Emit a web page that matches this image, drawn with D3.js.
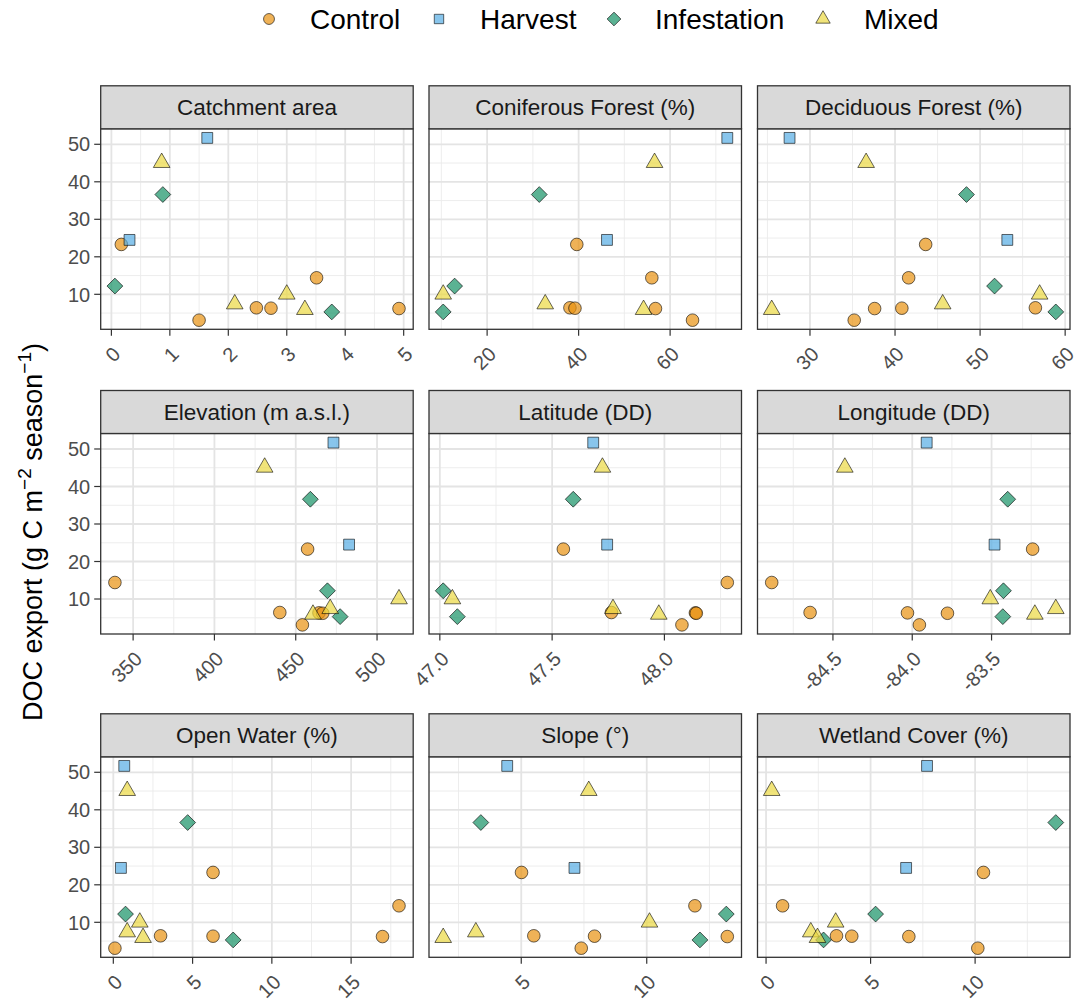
<!DOCTYPE html>
<html>
<head>
<meta charset="utf-8">
<script src="https://cdn.jsdelivr.net/npm/d3@7/dist/d3.min.js"></script>
<style>
  html, body { margin: 0; padding: 0; background: #ffffff; }
  svg { display: block; font-family: "Liberation Sans", Arial, Helvetica, sans-serif; }
</style>
</head>
<body>
<svg id="chart" width="1081" height="1003"></svg>
<script>
// ---- Data: one entry per catchment (15 sites) ----
const treatments = ["Control", "Harvest", "Infestation", "Mixed"];
const treatment = [
  "Control", "Control", "Control", "Control", "Control", "Control",
  "Harvest", "Harvest",
  "Infestation", "Infestation", "Infestation",
  "Mixed", "Mixed", "Mixed", "Mixed"
];
// DOC export, g C m^-2 season^-1
const docExport = [23.3, 14.4, 3.1, 6.4, 6.3, 6.2, 51.7, 24.5, 36.6, 12.2, 5.3, 45.1, 10.0, 7.4, 5.9];

// Catchment descriptors
const catchmentArea    = [0.17, 3.51, 1.50, 2.48, 2.73, 4.92, 1.64, 0.31, 0.88, 0.06, 3.77, 0.86, 3.00, 2.11, 3.31];
const coniferousForest = [39.6, 56.0, 64.9, 38.1, 39.2, 56.8, 72.5, 46.2, 31.4, 12.9, 10.4, 56.6, 10.4, 32.7, 54.2];
const deciduousForest  = [43.6, 41.6, 35.2, 56.5, 40.8, 37.6, 27.6, 53.2, 48.4, 51.7, 58.9, 36.6, 57.0, 45.6, 25.5];
const elevation        = [457.3, 338.8, 454.1, 440.2, 464.3, 466.6, 473.2, 482.8, 459.0, 469.5, 477.3, 430.9, 513.5, 471.2, 460.6];
const latitude         = [47.550, 48.280, 48.078, 47.764, 48.138, 48.142, 47.683, 47.745, 47.594, 47.015, 47.078, 47.724, 47.056, 47.771, 47.975];
const longitude        = [-83.241, -84.886, -83.955, -84.644, -84.030, -83.778, -83.909, -83.481, -83.398, -83.425, -83.429, -84.425, -83.508, -83.095, -83.227];
const openWater        = [6.29, 18.02, 0.10, 2.98, 6.29, 16.98, 0.69, 0.48, 4.69, 0.77, 7.56, 0.875, 1.67, 0.875, 1.875];
const slope            = [5.01, 11.92, 7.39, 5.50, 7.92, 13.21, 4.44, 7.12, 3.39, 13.17, 12.12, 7.69, 10.11, 3.19, 1.89];
const wetlandCover     = [10.40, 0.79, 10.13, 3.37, 4.10, 6.83, 7.70, 6.70, 13.86, 5.24, 2.75, 0.27, 3.33, 2.14, 2.46];

// Facet titles, in panel order
const facetTitles = [
  "Catchment area", "Coniferous Forest (%)", "Deciduous Forest (%)",
  "Elevation (m a.s.l.)", "Latitude (DD)", "Longitude (DD)",
  "Open Water (%)", "Slope (°)", "Wetland Cover (%)"
];
const facetValues = [
  catchmentArea, coniferousForest, deciduousForest,
  elevation, latitude, longitude,
  openWater, slope, wetlandCover
];

// Axis breaks and their labels
const xTicks = [
  [0, 1, 2, 3, 4, 5],
  [20, 40, 60],
  [30, 40, 50, 60],
  [350, 400, 450, 500],
  [47.0, 47.5, 48.0],
  [-84.5, -84.0, -83.5],
  [0, 5, 10, 15],
  [5, 10],
  [0, 5, 10]
];
const xTickLabels = [
  ["0", "1", "2", "3", "4", "5"],
  ["20", "40", "60"],
  ["30", "40", "50", "60"],
  ["350", "400", "450", "500"],
  ["47.0", "47.5", "48.0"],
  ["-84.5", "-84.0", "-83.5"],
  ["0", "5", "10", "15"],
  ["5", "10"],
  ["0", "5", "10"]
];
const yTicks = [10, 20, 30, 40, 50];
const yTickLabels = ["10", "20", "30", "40", "50"];

// ---- Appearance ----
const fillColor = {
  Control: "#E8920F",
  Harvest: "#55ADE4",
  Infestation: "#159265",
  Mixed: "#EBD841"
};
const symbolType = {
  Control: d3.symbolCircle,
  Harvest: d3.symbolSquare,
  Infestation: d3.symbolSquare,   // rotated 45 degrees into a diamond
  Mixed: d3.symbolTriangle
};
const symbolSize = { Control: 125, Harvest: 118, Infestation: 125, Mixed: 120 };
const symbolRotate = { Control: 0, Harvest: 0, Infestation: 45, Mixed: 0 };

const colX = [100.7, 429.0, 757.5];
const rowTop = [128.8, 433.5, 756.8];
const panelW = 312.5;
const panelH = 200.5;
const stripH = 43;
const tickLen = 6.5;

const svg = d3.select("#chart");

// Expand a range by 5% on each side (continuous-scale default padding)
function expanded(values) {
  const [lo, hi] = d3.extent(values);
  const pad = (hi - lo) * 0.05;
  return [lo - pad, hi + pad];
}
// Minor breaks halfway between major breaks, extended one half-step past the ends
function minorBreaks(major, domain) {
  const out = [];
  const step = major[1] - major[0];
  const all = [major[0] - step, ...major, major[major.length - 1] + step];
  for (let i = 0; i < all.length - 1; i++) {
    const m = (all[i] + all[i + 1]) / 2;
    if (m >= domain[0] && m <= domain[1]) out.push(m);
  }
  return out;
}

const yDomain = expanded(docExport);
const yMinor = minorBreaks(yTicks, yDomain);

facetTitles.forEach((title, i) => {
  const row = Math.floor(i / 3), col = i % 3;
  const x0 = colX[col], y0 = rowTop[row];
  const xDomain = expanded(facetValues[i]);
  const x = d3.scaleLinear().domain(xDomain).range([x0, x0 + panelW]);
  const y = d3.scaleLinear().domain(yDomain).range([y0 + panelH, y0]);
  const xMinor = minorBreaks(xTicks[i], xDomain);

  const g = svg.append("g").attr("class", "panel");

  g.append("rect")
    .attr("x", x0).attr("y", y0).attr("width", panelW).attr("height", panelH)
    .attr("fill", "#ffffff");

  // minor grid
  g.selectAll(".xminor").data(xMinor).join("line")
    .attr("x1", d => x(d)).attr("x2", d => x(d))
    .attr("y1", y0).attr("y2", y0 + panelH)
    .attr("stroke", "#EBEBEB").attr("stroke-width", 0.9);
  g.selectAll(".yminor").data(yMinor).join("line")
    .attr("x1", x0).attr("x2", x0 + panelW)
    .attr("y1", d => y(d)).attr("y2", d => y(d))
    .attr("stroke", "#EBEBEB").attr("stroke-width", 0.9);
  // major grid
  g.selectAll(".xmajor").data(xTicks[i]).join("line")
    .attr("x1", d => x(d)).attr("x2", d => x(d))
    .attr("y1", y0).attr("y2", y0 + panelH)
    .attr("stroke", "#E4E4E4").attr("stroke-width", 1.8);
  g.selectAll(".ymajor").data(yTicks).join("line")
    .attr("x1", x0).attr("x2", x0 + panelW)
    .attr("y1", d => y(d)).attr("y2", d => y(d))
    .attr("stroke", "#E4E4E4").attr("stroke-width", 1.8);

  // points
  const pts = docExport.map((v, k) => ({ v, xv: facetValues[i][k], t: treatment[k] }));
  g.selectAll("path.pt").data(pts).join("path")
    .attr("class", "pt")
    .attr("d", d => d3.symbol().type(symbolType[d.t]).size(symbolSize[d.t])())
    .attr("transform", d => `translate(${x(d.xv)},${y(d.v)}) rotate(${symbolRotate[d.t]})`)
    .attr("fill", d => fillColor[d.t])
    .attr("fill-opacity", 0.7)
    .attr("stroke", "#000000")
    .attr("stroke-opacity", 0.65)
    .attr("stroke-width", 0.9);

  // panel border
  g.append("rect")
    .attr("x", x0).attr("y", y0).attr("width", panelW).attr("height", panelH)
    .attr("fill", "none").attr("stroke", "#333333").attr("stroke-width", 1.3);

  // strip
  g.append("rect")
    .attr("x", x0).attr("y", y0 - stripH).attr("width", panelW).attr("height", stripH)
    .attr("fill", "#D9D9D9").attr("stroke", "#333333").attr("stroke-width", 1.3);
  g.append("text")
    .attr("x", x0 + panelW / 2).attr("y", y0 - stripH / 2)
    .attr("dy", "0.36em")
    .attr("text-anchor", "middle")
    .attr("font-size", 22.5)
    .attr("fill", "#1A1A1A")
    .text(title);

  // x axis ticks and rotated labels
  const yb = y0 + panelH;
  g.selectAll(".xtick").data(xTicks[i]).join("line")
    .attr("x1", d => x(d)).attr("x2", d => x(d))
    .attr("y1", yb).attr("y2", yb + tickLen)
    .attr("stroke", "#333333").attr("stroke-width", 1.2);
  g.selectAll(".xlab").data(xTicks[i]).join("text")
    .attr("transform", d => `translate(${x(d)},${yb + 16}) rotate(-45)`)
    .attr("dy", "0.72em")
    .attr("text-anchor", "end")
    .attr("font-size", 20)
    .attr("fill", "#4D4D4D")
    .text((d, k) => xTickLabels[i][k]);

  // y axis on the first column only
  if (col === 0) {
    g.selectAll(".ytick").data(yTicks).join("line")
      .attr("x1", x0 - tickLen).attr("x2", x0)
      .attr("y1", d => y(d)).attr("y2", d => y(d))
      .attr("stroke", "#333333").attr("stroke-width", 1.2);
    g.selectAll(".ylab").data(yTicks).join("text")
      .attr("x", x0 - tickLen - 4)
      .attr("y", d => y(d))
      .attr("dy", "0.36em")
      .attr("text-anchor", "end")
      .attr("font-size", 20)
      .attr("fill", "#4D4D4D")
      .text((d, k) => yTickLabels[k]);
  }
});

// y axis title with superscripts
const title = svg.append("text")
  .attr("transform", "translate(41.5,532) rotate(-90)")
  .attr("text-anchor", "middle")
  .attr("font-size", 27)
  .attr("fill", "#000000");
title.append("tspan").text("DOC export (g C m");
title.append("tspan").attr("font-size", 19).attr("dy", -11).text("−2");
title.append("tspan").attr("dy", 11).text(" season");
title.append("tspan").attr("font-size", 19).attr("dy", -11).text("−1");
title.append("tspan").attr("dy", 11).text(")");

// legend along the top
const legendKeyX = [269, 439, 614, 823];
const legend = svg.append("g").attr("class", "legend");
treatments.forEach((t, k) => {
  legend.append("path")
    .attr("d", d3.symbol().type(symbolType[t]).size(symbolSize[t] * 0.75)())
    .attr("transform", `translate(${legendKeyX[k]},19) rotate(${symbolRotate[t]})`)
    .attr("fill", fillColor[t])
    .attr("fill-opacity", 0.7)
    .attr("stroke", "#000000")
    .attr("stroke-opacity", 0.65)
    .attr("stroke-width", 0.9);
  legend.append("text")
    .attr("x", legendKeyX[k] + 41)
    .attr("y", 19)
    .attr("dy", "0.36em")
    .attr("font-size", 28)
    .attr("fill", "#000000")
    .text(t);
});
</script>
</body>
</html>
